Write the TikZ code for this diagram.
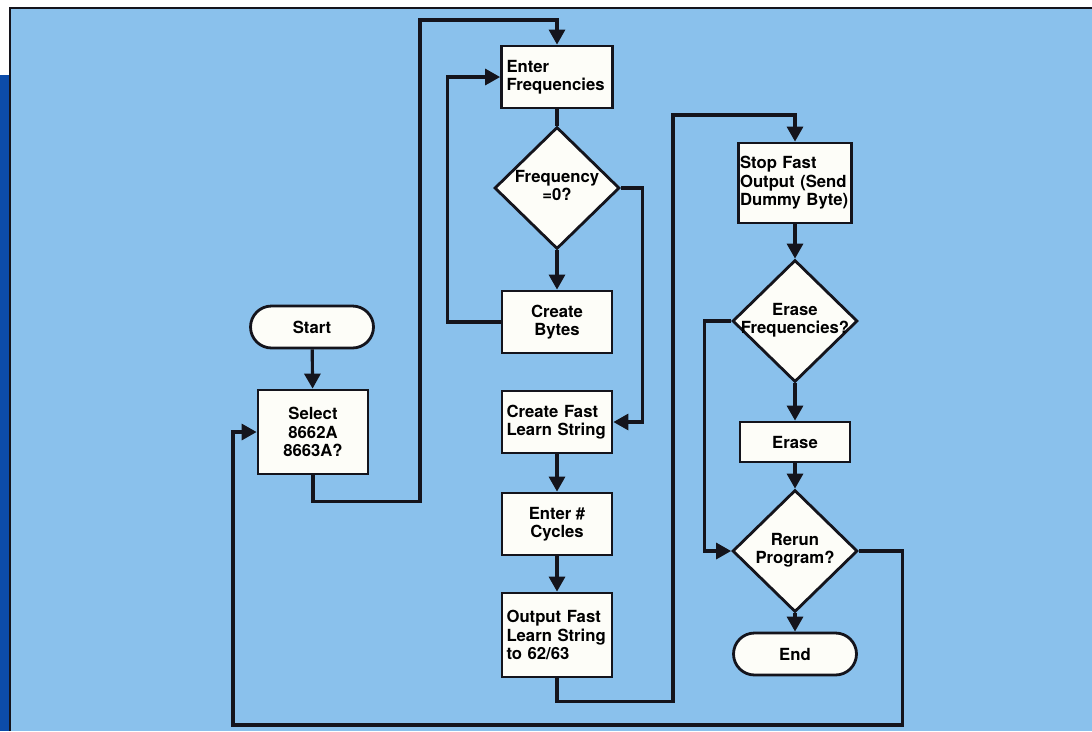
\documentclass[tikz,border=0pt]{standalone}
\usepackage{fontspec}
\setmainfont{TeX Gyre Heros}
\usetikzlibrary{calc, arrows.meta, positioning, shapes.geometric}
\definecolor{paleblue}{RGB}{138,193,236}
\definecolor{stripblue}{RGB}{12,76,170}
\definecolor{inkblack}{RGB}{20,20,28}
\definecolor{boxwhite}{RGB}{253,253,248}
\newcommand{\dtext}[1]{\makebox[0pt]{\begin{tabular}{@{}c@{}}#1\end{tabular}}}

\begin{document}
\begin{tikzpicture}[x=0.02cm, y=-0.02cm,
        box/.style={draw=inkblack, line width=1.6pt, fill=boxwhite, minimum width=2.2cm, minimum height=1.24cm,
            inner sep=0.09cm, font=\fontsize{9.5}{10.5}\selectfont\bfseries, align=center},
        leftbox/.style={box, align=left, text width=2.02cm},
        decision/.style={diamond, draw=inkblack, line width=1.6pt, fill=boxwhite, minimum width=2.5cm,
            minimum height=2.44cm, inner sep=0pt, font=\fontsize{9.5}{10.5}\selectfont\bfseries},
        terminal/.style={draw=inkblack, line width=1.6pt, fill=boxwhite, rounded corners=0.42cm,
            minimum width=2.46cm, minimum height=0.84cm, font=\fontsize{9.5}{10.5}\selectfont\bfseries},
        flow/.style={draw=inkblack, line width=1.8pt, -{Triangle[length=0.3cm,width=0.32cm]}},
        wire/.style={draw=inkblack, line width=1.8pt}]
        \useasboundingbox (0,0) rectangle (1092,731);
        \fill[white] (0,0) rectangle (1092,731);
        \fill[stripblue] (0,75) rectangle (10,731);
        \fill[paleblue] (10,8) rectangle (1092,731);
        \draw[inkblack, line width=1.2pt] (10,731) -- (10,8) -- (1092,8);

        \node[terminal] (start) at (312,327) {Start};
        \node[box, minimum height=1.68cm] (sel) at (313,432) {Select\\8662A\\8663A?};

        \node[leftbox, minimum width=2.22cm] (enter) at (557,77) {Enter\\Frequencies};
        \node[decision] (freq) at (557,188) {\dtext{Frequency\\=0?}};
        \node[box] (bytes) at (557,322) {Create\\Bytes};
        \node[leftbox] (fast) at (557,422) {Create Fast\\Learn String};
        \node[box] (cyc) at (557,524) {Enter \#\\Cycles};
        \node[leftbox, minimum height=1.68cm] (out) at (557,635) {Output Fast\\Learn String\\to 62/63};

        \node[box, align=left, inner sep=0.03cm, text width=2.2cm, minimum height=1.6cm] (stop) at (795,183)
            {Stop Fast\\Output (Send\\Dummy Byte)};
        \node[decision] (erfreq) at (795,321) {\dtext{Erase\\Frequencies?\\ }};
        \node[box, minimum height=0.8cm] (erase) at (795,442) {Erase};
        \node[decision] (rerun) at (795,551) {\dtext{Rerun\\Program?}};
        \node[terminal] (end) at (795,654) {End};

        \coordinate (c1) at (420,20);
        \coordinate (c2) at (673,115);
        \coordinate (c3) at (233,725);

        \draw[flow] (start) -- (sel);
        \draw[flow] (sel.south) -- ++(0,26) -| (c1) -| (enter.north);
        \draw[wire] (enter) -- (freq);
        \draw[flow] (freq) -- (bytes);
        \draw[flow] (bytes.west) -- ++(-53,0) |- (enter.west);
        \draw[flow] (freq.east) -- ++(22,0) |- (fast.east);
        \draw[flow] (fast) -- (cyc);
        \draw[flow] (cyc) -- (out);
        \draw[flow] (out.south) -- ++(0,23) -| (c2) -| (stop.north);
        \draw[flow] (stop) -- (erfreq);
        \draw[flow] (erfreq) -- (erase);
        \draw[flow] (erase) -- (rerun);
        \draw[flow] (rerun) -- (end);
        \draw[flow] (erfreq.west) -- ++(-27,0) |- (rerun.west);
        \draw[flow] (rerun.east) -- ++(44,0) |- (c3) |- (sel.west);
    \end{tikzpicture}
\end{document}
